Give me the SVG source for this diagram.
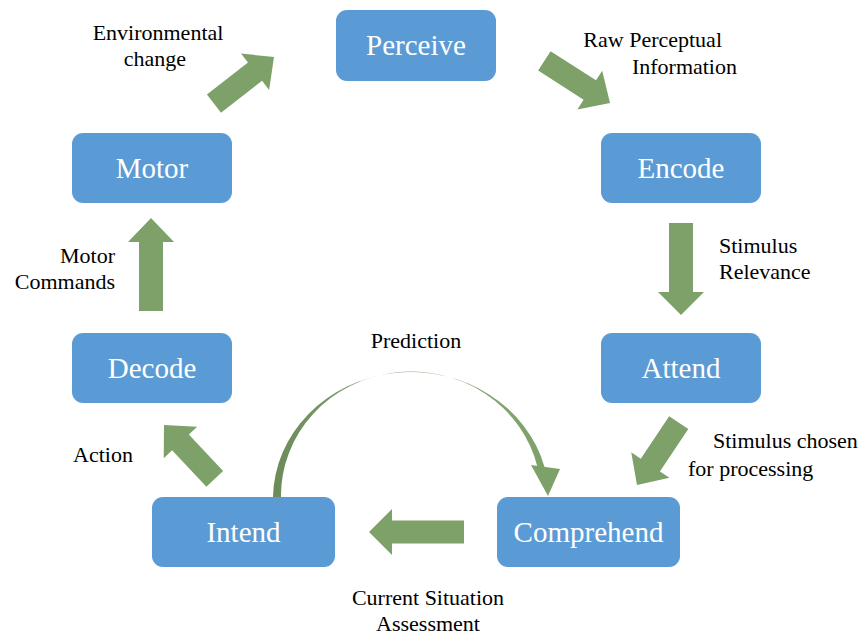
<svg xmlns="http://www.w3.org/2000/svg" width="865" height="637" viewBox="0 0 865 637">
  <style>
    .node rect { fill: #5b9bd5; }
    .node text { font-family: "Liberation Serif", "Times New Roman", serif; font-size: 29px; fill: #ffffff; text-anchor: middle; }
    text.lbl { font-family: "Liberation Serif", "Times New Roman", serif; font-size: 22px; fill: #000000; }
    .blk { fill: #7ea16a; }
  </style>
  <defs>
    <linearGradient id="arcGrad" x1="0" y1="0" x2="1" y2="0">
      <stop offset="0" stop-color="#6c8b59"/>
      <stop offset="0.5" stop-color="#8aa97a"/>
      <stop offset="1" stop-color="#7ea16a"/>
    </linearGradient>
  </defs>

  <!-- nodes -->
  <g id="perceive" class="node"><rect x="336" y="10" width="160" height="71" rx="11"/><text x="416" y="55">Perceive</text></g>
  <g id="encode" class="node"><rect x="601" y="133" width="160" height="70" rx="11"/><text x="681" y="178">Encode</text></g>
  <g id="attend" class="node"><rect x="601" y="333" width="160" height="70" rx="11"/><text x="681" y="378">Attend</text></g>
  <g id="comprehend" class="node"><rect x="497" y="497" width="183" height="70" rx="11"/><text x="588.5" y="542">Comprehend</text></g>
  <g id="intend" class="node"><rect x="152" y="497" width="183" height="70" rx="11"/><text x="243.5" y="542">Intend</text></g>
  <g id="decode" class="node"><rect x="72" y="333" width="160" height="70" rx="11"/><text x="152" y="378">Decode</text></g>
  <g id="motor" class="node"><rect x="72" y="133" width="160" height="70" rx="11"/><text x="152" y="178">Motor</text></g>

  <!-- connectors: block arrows (tip at local origin, pointing along +x) -->
  <g id="connectors">
    <path class="blk" transform="translate(274,57) rotate(-37.8)" d="M-76,-11.5 H-24 V-23 L0,0 L-24,23 V11.5 H-76 Z"/>
    <path class="blk" transform="translate(610,103) rotate(32.7)" d="M-78,-11.5 H-24 V-23 L0,0 L-24,23 V11.5 H-78 Z"/>
    <path class="blk" transform="translate(681,315) rotate(90)" d="M-92,-12 H-23 V-23 L0,0 L-23,23 V12 H-92 Z"/>
    <path class="blk" transform="translate(637,485) rotate(123.8)" d="M-75,-11.5 H-24 V-23 L0,0 L-24,23 V11.5 H-75 Z"/>
    <path class="blk" transform="translate(369,532) rotate(180)" d="M-95,-11.5 H-23 V-23 L0,0 L-23,23 V11.5 H-95 Z"/>
    <path class="blk" transform="translate(164,425) rotate(-133.3)" d="M-74,-11.5 H-24 V-23 L0,0 L-24,23 V11.5 H-74 Z"/>
    <path class="blk" transform="translate(151,218) rotate(-90)" d="M-93,-12 H-24 V-23 L0,0 L-24,23 V12 H-93 Z"/>

    <!-- curved prediction arrow, tapered toward its crest -->
    <path fill="url(#arcGrad)" d="M273,497 A138,127 0 0 1 544.5,467 L537.5,467 A130,124 0 0 0 281,497 Z"/>
    <path fill="#7ea16a" d="M531,465 L560,469 L548,496 Z"/>
  </g>

  <!-- labels -->
  <g id="labels">
    <text class="lbl" x="158" y="40" text-anchor="middle">Environmental</text>
    <text class="lbl" x="155" y="66" text-anchor="middle">change</text>
    <text class="lbl" x="722" y="47" text-anchor="end">Raw Perceptual</text>
    <text class="lbl" x="737" y="74" text-anchor="end">Information</text>
    <text class="lbl" x="719" y="253">Stimulus</text>
    <text class="lbl" x="719" y="279">Relevance</text>
    <text class="lbl" x="115" y="263" text-anchor="end">Motor</text>
    <text class="lbl" x="115" y="289" text-anchor="end">Commands</text>
    <text class="lbl" x="416" y="348" text-anchor="middle">Prediction</text>
    <text class="lbl" x="73" y="462">Action</text>
    <text class="lbl" x="713" y="448">Stimulus chosen</text>
    <text class="lbl" x="688" y="476">for processing</text>
    <text class="lbl" x="428" y="605" text-anchor="middle">Current Situation</text>
    <text class="lbl" x="428" y="631" text-anchor="middle">Assessment</text>
  </g>
</svg>
